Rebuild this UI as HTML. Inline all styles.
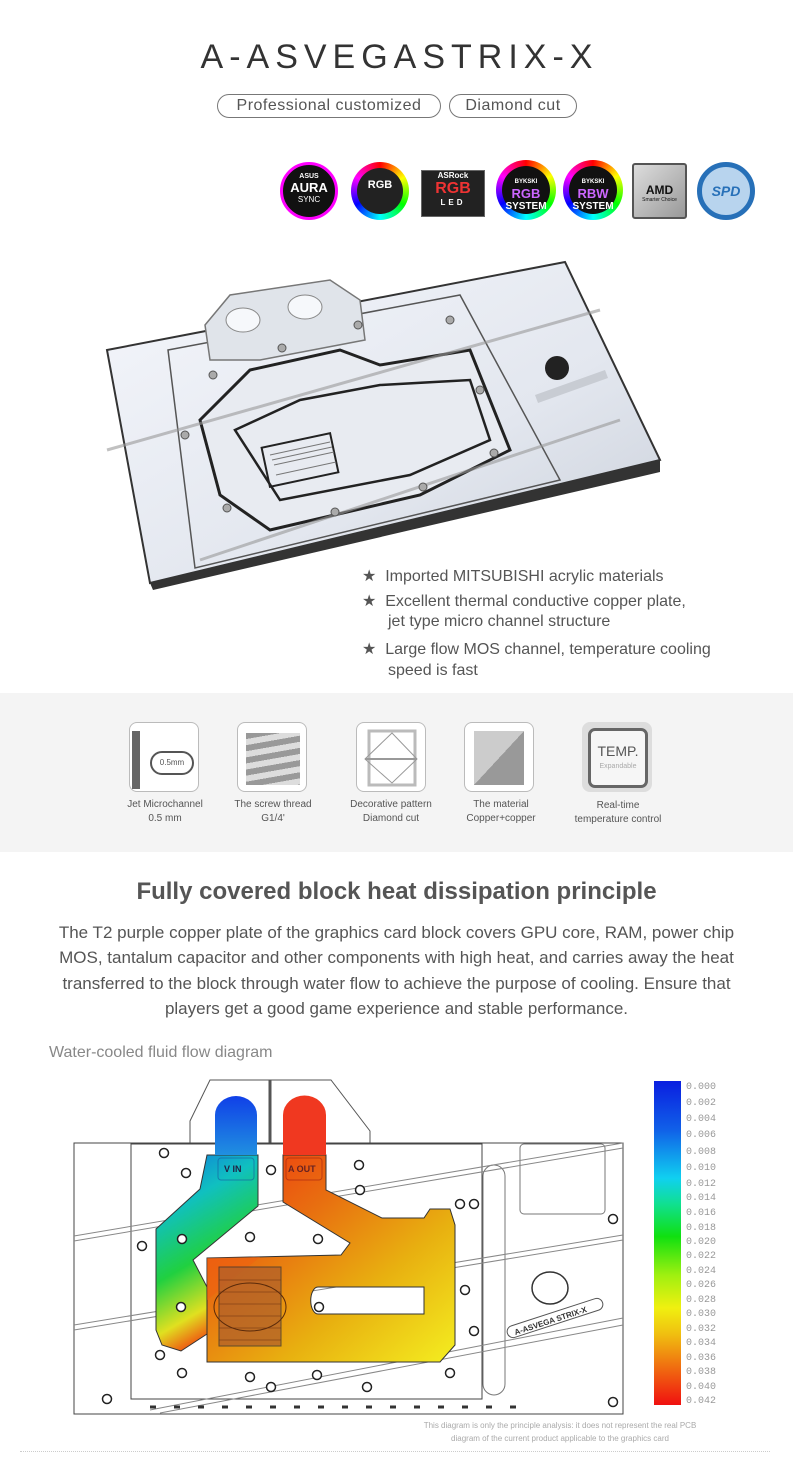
<!DOCTYPE html>
<html><head><meta charset="utf-8"><style>
*{margin:0;padding:0;box-sizing:border-box}
body{width:793px;height:1475px;background:#fff;position:relative;font-family:"Liberation Sans",sans-serif;color:#555;overflow:hidden}
.a{position:absolute}
.pill{position:absolute;top:94px;height:24px;border:1px solid #777;border-radius:12px;font-size:16px;line-height:22px;text-align:center;color:#555;letter-spacing:.5px}
.logo{position:absolute;top:162px;width:58px;height:58px;border-radius:50%;color:#fff;text-align:center;font-weight:bold}
.ring{background:conic-gradient(red,#ff0,#0f0,#0ff,#00f,#f0f,red)}
.inner{position:absolute;left:6px;top:6px;width:46px;height:46px;border-radius:50%;background:#111;font-size:10px;line-height:11px;padding-top:9px}
.bul{position:absolute;left:362px;font-size:16px;color:#555}
.ic{position:absolute;top:722px;width:70px;height:70px;border:1px solid #bbb;border-radius:8px;background:#fff;overflow:hidden}
.lb{position:absolute;top:798px;width:140px;text-align:center;font-size:10px;line-height:14px;color:#555}
.p{position:absolute;left:0;width:793px;text-align:center;font-size:17px;color:#555}
.cl{position:absolute;left:686px;font-size:10px;color:#999;font-family:"Liberation Mono",monospace}
</style></head><body>
<div class="a" style="left:0;top:38px;width:793px;text-align:center;font-size:34px;letter-spacing:6px;color:#333;padding-left:6px">A-ASVEGASTRIX-X</div>
<div class="pill" style="left:217px;width:224px">Professional customized</div>
<div class="pill" style="left:449px;width:128px">Diamond cut</div>

<div class="logo" style="left:280px;background:#111;border:3px solid #f0f"><div style="font-size:7px;margin-top:8px">ASUS</div><div style="font-size:13px">AURA</div><div style="font-size:8px;font-weight:normal">SYNC</div></div>
<div class="logo ring" style="left:351px"><div class="inner" style="background:#222;padding-top:12px;font-size:11px">RGB</div></div>
<div class="a" style="left:421px;top:170px;width:64px;height:47px;background:#222;border:1px solid #666;color:#fff;text-align:center;font-size:8px;font-weight:bold"><div>ASRock</div><div style="font-size:16px;color:#e33">RGB</div><div style="font-size:8px;letter-spacing:3px">LED</div></div>
<div class="logo ring" style="left:496px;top:160px;width:60px;height:60px"><div class="inner" style="width:48px;height:48px"><span style="font-size:6px">BYKSKI</span><br><span style="font-size:13px;color:#c6f">RGB</span><br>SYSTEM</div></div>
<div class="logo ring" style="left:563px;top:160px;width:60px;height:60px"><div class="inner" style="width:48px;height:48px"><span style="font-size:6px">BYKSKI</span><br><span style="font-size:13px;color:#c6f">RBW</span><br>SYSTEM</div></div>
<div class="a" style="left:632px;top:163px;width:55px;height:56px;background:linear-gradient(135deg,#ddd,#999);border:2px solid #555;border-radius:3px;text-align:center;padding-top:18px;font-size:12px;font-weight:bold;color:#111">AMD<div style="font-size:5px;font-weight:normal">Smarter Choice</div></div>
<div class="logo" style="left:697px;background:#b8d4ee;border:5px solid #2770b8;color:#2770b8;font-style:italic;font-size:14px;line-height:48px">SPD</div>

<svg class="a" style="left:0;top:250px" width="793" height="340">
<defs><linearGradient id="ac" x1="0" y1="0" x2="1" y2="1"><stop offset="0" stop-color="#f4f6fb"/><stop offset=".6" stop-color="#e3e7ef"/><stop offset="1" stop-color="#c9cfd9"/></linearGradient></defs>
<polygon points="107,100 565,12 660,210 150,333" fill="url(#ac)" stroke="#333" stroke-width="2"/>
<polygon points="150,333 660,210 660,222 153,340" fill="#333"/>
<polygon points="168,100 460,45 560,230 195,318" fill="none" stroke="#555" stroke-width="1.5"/>
<polygon points="200,170 250,120 340,100 380,115 470,100 500,175 510,200 420,245 270,280 220,245" fill="#e8ebf1" stroke="#222" stroke-width="3"/>
<polygon points="235,180 300,150 380,135 470,130 490,190 410,225 280,250" fill="none" stroke="#222" stroke-width="2.5"/>
<rect x="265" y="190" width="70" height="40" fill="none" stroke="#222" stroke-width="2" transform="rotate(-12 300 210)"/>
<g stroke="#777" stroke-width="1"><line x1="270" y1="205" x2="330" y2="192"/><line x1="272" y1="210" x2="332" y2="197"/><line x1="274" y1="215" x2="334" y2="202"/><line x1="276" y1="225" x2="336" y2="212"/></g>
<line x1="107" y1="200" x2="600" y2="60" stroke="#999" stroke-width="3" opacity=".6"/>
<line x1="200" y1="310" x2="620" y2="170" stroke="#999" stroke-width="3" opacity=".6"/>
<polygon points="205,75 230,45 330,30 360,50 365,90 260,110 210,110" fill="#e0e4ea" stroke="#777" stroke-width="1.5"/>
<ellipse cx="243" cy="70" rx="17" ry="12" fill="#f6f8fb" stroke="#888"/>
<ellipse cx="305" cy="57" rx="17" ry="12" fill="#f6f8fb" stroke="#888"/>
<circle cx="557" cy="118" r="12" fill="#222"/>
<polygon points="535,145 605,120 608,128 538,153" fill="#c8ccd3"/>
<g fill="#aaa" stroke="#555"><circle cx="213" cy="125" r="4"/><circle cx="185" cy="185" r="4"/><circle cx="227" cy="258" r="4"/><circle cx="335" cy="262" r="4"/><circle cx="423" cy="237" r="4"/><circle cx="494" cy="203" r="4"/><circle cx="480" cy="140" r="4"/><circle cx="450" cy="70" r="4"/><circle cx="282" cy="98" r="4"/><circle cx="358" cy="75" r="4"/></g>
</svg>
<div class="bul" style="top:566px">★&nbsp; Imported MITSUBISHI acrylic materials</div>
<div class="bul" style="top:591px">★&nbsp; Excellent thermal conductive copper plate,</div>
<div class="bul" style="top:613px;left:388px">jet type micro channel structure</div>
<div class="bul" style="top:639px">★&nbsp; Large flow MOS channel, temperature cooling</div>
<div class="bul" style="top:662px;left:388px">speed is fast</div>

<div class="a" style="left:0;top:693px;width:793px;height:159px;background:#f4f4f4"></div>
<div class="ic" style="left:129px"><div class="a" style="left:2px;top:8px;width:8px;height:58px;background:#666"></div><div class="a" style="left:20px;top:28px;width:44px;height:24px;border:2px solid #555;border-radius:12px;font-size:8px;line-height:20px;text-align:center">0.5mm</div></div>
<div class="ic" style="left:237px"><div class="a" style="left:8px;top:10px;width:54px;height:52px;background:repeating-linear-gradient(170deg,#999 0 6px,#ddd 6px 12px)"></div></div>
<div class="ic" style="left:356px"><svg width="70" height="70"><rect x="12" y="8" width="46" height="54" fill="none" stroke="#bbb" stroke-width="3"/><polygon points="35,10 60,36 35,60 8,36" fill="none" stroke="#999"/><line x1="8" y1="36" x2="60" y2="36" stroke="#999" stroke-width="2"/></svg></div>
<div class="ic" style="left:464px"><div class="a" style="left:9px;top:8px;width:50px;height:54px;background:linear-gradient(to bottom right,#ccc 50%,#999 50%)"></div></div>
<div class="ic" style="left:582px;background:#ddd;border-color:#ddd"><div class="a" style="left:5px;top:5px;width:60px;height:60px;border:3px solid #666;border-radius:7px;background:#f6f6f6;text-align:center;font-size:14px;padding-top:12px">TEMP.<div style="font-size:7px;color:#aaa;margin-top:4px">Expandable</div></div></div>
<div class="lb" style="left:95px">Jet Microchannel<br>0.5 mm</div>
<div class="lb" style="left:203px">The screw thread<br>G1/4'</div>
<div class="lb" style="left:321px">Decorative pattern<br>Diamond cut</div>
<div class="lb" style="left:431px">The material<br>Copper+copper</div>
<div class="lb" style="left:548px;top:799px">Real-time<br>temperature control</div>

<div class="a" style="left:0;top:878px;width:793px;text-align:center;font-size:24px;font-weight:bold;color:#555">Fully covered block heat dissipation principle</div>
<div class="p" style="top:923px">The T2 purple copper plate of the graphics card block covers GPU core, RAM, power chip</div>
<div class="p" style="top:948px">MOS, tantalum capacitor and other components with high heat, and carries away the heat</div>
<div class="p" style="top:974px">transferred to the block through water flow to achieve the purpose of cooling. Ensure that</div>
<div class="p" style="top:999px">players get a good game experience and stable performance.</div>
<div class="a" style="left:49px;top:1044px;font-size:16px;color:#888">Water-cooled fluid flow diagram</div>

<svg class="a" style="left:0;top:1070px" width="793" height="350">
<defs>
<linearGradient id="g1" x1="0" y1="0" x2="0.3" y2="1"><stop offset="0" stop-color="#1070e0"/><stop offset=".3" stop-color="#10c0c0"/><stop offset=".6" stop-color="#20d040"/><stop offset=".85" stop-color="#e0e020"/><stop offset="1" stop-color="#f05010"/></linearGradient>
<linearGradient id="g2" x1="0" y1="0" x2="1" y2="1"><stop offset="0" stop-color="#f03010"/><stop offset=".35" stop-color="#e87010"/><stop offset=".65" stop-color="#e8b010"/><stop offset="1" stop-color="#f4ee20"/></linearGradient>
<linearGradient id="gb" x1="0" y1="0" x2="0" y2="1"><stop offset="0" stop-color="#1040e8"/><stop offset="1" stop-color="#2090e0"/></linearGradient>
</defs>
<g transform="translate(0,-1070)">
<polygon points="210,1080 331,1080 370,1131 370,1143 190,1143 190,1121" fill="#fff" stroke="#555"/>
<line x1="270" y1="1080" x2="270" y2="1143" stroke="#555" stroke-width="3"/>
<rect x="74" y="1143" width="549" height="271" fill="#fff" stroke="#444"/>
<rect x="131" y="1144" width="351" height="255" fill="none" stroke="#444"/>
<rect x="483" y="1165" width="22" height="230" rx="11" fill="none" stroke="#777"/>
<rect x="520" y="1144" width="85" height="70" rx="4" fill="none" stroke="#777"/>
<g stroke="#888" fill="none"><line x1="74" y1="1236" x2="623" y2="1143"/><line x1="74" y1="1241" x2="623" y2="1148"/><line x1="74" y1="1325" x2="623" y2="1235"/><line x1="74" y1="1330" x2="623" y2="1240"/><line x1="150" y1="1410" x2="623" y2="1318"/><line x1="160" y1="1413" x2="623" y2="1325"/></g>
<path d="M207,1155 L258,1155 L258,1206 L193,1260 L207,1287 L207,1334 L181,1351 L162,1345 L156,1330 L156,1229 L200,1189 Z" fill="url(#g1)" stroke="#333"/>
<path fill-rule="evenodd" d="M283,1155 L326,1155 L326,1190 L382,1218 L424,1218 L430,1209 L450,1209 L455,1225 L455,1345 L440,1362 L207,1362 L207,1258 L341,1255 L350,1243 L283,1202 Z M318,1287 L424,1287 L424,1314 L318,1314 A7,13 0 0 1 318,1287 Z" fill="url(#g2)" stroke="#333"/>
<path d="M207,1258 L260,1257 L207,1300 Z" fill="#f06010" opacity=".5"/>
<rect x="219" y="1267" width="62" height="79" fill="#b0602a" opacity=".75" stroke="#333"/>
<ellipse cx="250" cy="1307" rx="36" ry="24" fill="none" stroke="#5a2a0a"/>
<g stroke="#6a3010" stroke-width=".6">
<line x1="219" y1="1280" x2="281" y2="1280"/><line x1="219" y1="1292" x2="281" y2="1292"/><line x1="219" y1="1304" x2="281" y2="1304"/><line x1="219" y1="1316" x2="281" y2="1316"/><line x1="219" y1="1328" x2="281" y2="1328"/><line x1="219" y1="1340" x2="281" y2="1340"/></g>
<path d="M215,1155 L215,1115 A21,19 0 0 1 257,1115 L257,1155 Z" fill="url(#gb)"/>
<path d="M283,1155 L283,1115 A21,19 0 0 1 326,1115 L326,1155 Z" fill="#f03820"/>
<rect x="218" y="1158" width="36" height="22" rx="3" fill="none" stroke="#15589c" opacity=".6"/>
<rect x="286" y="1158" width="36" height="22" rx="3" fill="none" stroke="#a02010" opacity=".6"/>
<text x="224" y="1172" font-size="9" fill="#224" font-weight="bold">V IN</text>
<text x="288" y="1172" font-size="9" fill="#622" font-weight="bold">A OUT</text>
<g fill="#fff" stroke="#222" stroke-width="1.5">
<circle cx="164" cy="1153" r="4.5"/><circle cx="186" cy="1173" r="4.5"/><circle cx="142" cy="1246" r="4.5"/><circle cx="182" cy="1239" r="4.5"/><circle cx="250" cy="1237" r="4.5"/><circle cx="318" cy="1239" r="4.5"/><circle cx="271" cy="1170" r="4.5"/><circle cx="359" cy="1165" r="4.5"/><circle cx="360" cy="1190" r="4.5"/><circle cx="460" cy="1204" r="4.5"/><circle cx="474" cy="1204" r="4.5"/><circle cx="613" cy="1219" r="4.5"/><circle cx="465" cy="1290" r="4.5"/><circle cx="474" cy="1331" r="4.5"/><circle cx="319" cy="1307" r="4.5"/><circle cx="181" cy="1307" r="4.5"/><circle cx="160" cy="1355" r="4.5"/><circle cx="182" cy="1373" r="4.5"/><circle cx="250" cy="1377" r="4.5"/><circle cx="317" cy="1375" r="4.5"/><circle cx="271" cy="1387" r="4.5"/><circle cx="367" cy="1387" r="4.5"/><circle cx="450" cy="1373" r="4.5"/><circle cx="107" cy="1399" r="4.5"/><circle cx="613" cy="1402" r="4.5"/></g>
<ellipse cx="550" cy="1288" rx="18" ry="16" fill="#fff" stroke="#333" stroke-width="1.5"/>
<rect x="505" y="1312" width="100" height="12" rx="6" fill="#fff" stroke="#555" transform="rotate(-18 555 1318)"/>
<text x="512" y="1322" font-size="8" font-weight="bold" fill="#333" transform="rotate(-18 555 1318)">A-ASVEGA STRIX-X</text>
<line x1="150" y1="1407" x2="520" y2="1407" stroke="#333" stroke-width="3" stroke-dasharray="6 18"/>
</g>
</svg>

<div class="a" style="left:654px;top:1081px;width:27px;height:324px;background:linear-gradient(#0a1ee0,#1060e8 15%,#10d0f0 30%,#10e090 38%,#10e010 48%,#a0f010 60%,#f0f010 70%,#f0c010 78%,#f07010 88%,#f01010)"></div>
<div class="cl" style="top:1082px">0.000</div><div class="cl" style="top:1098px">0.002</div><div class="cl" style="top:1114px">0.004</div><div class="cl" style="top:1130px">0.006</div><div class="cl" style="top:1147px">0.008</div><div class="cl" style="top:1163px">0.010</div><div class="cl" style="top:1179px">0.012</div><div class="cl" style="top:1193px">0.014</div><div class="cl" style="top:1208px">0.016</div><div class="cl" style="top:1223px">0.018</div><div class="cl" style="top:1237px">0.020</div><div class="cl" style="top:1251px">0.022</div><div class="cl" style="top:1266px">0.024</div><div class="cl" style="top:1280px">0.026</div><div class="cl" style="top:1295px">0.028</div><div class="cl" style="top:1309px">0.030</div><div class="cl" style="top:1324px">0.032</div><div class="cl" style="top:1338px">0.034</div><div class="cl" style="top:1353px">0.036</div><div class="cl" style="top:1367px">0.038</div><div class="cl" style="top:1382px">0.040</div><div class="cl" style="top:1396px">0.042</div>

<div class="a" style="left:380px;top:1419px;width:360px;text-align:center;font-size:8px;line-height:13px;color:#aaa">This diagram is only the principle analysis: it does not represent the real PCB<br>diagram of the current product applicable to the graphics card</div>
<div class="a" style="left:20px;top:1451px;width:750px;border-top:1px dotted #ccc"></div>
</body></html>
